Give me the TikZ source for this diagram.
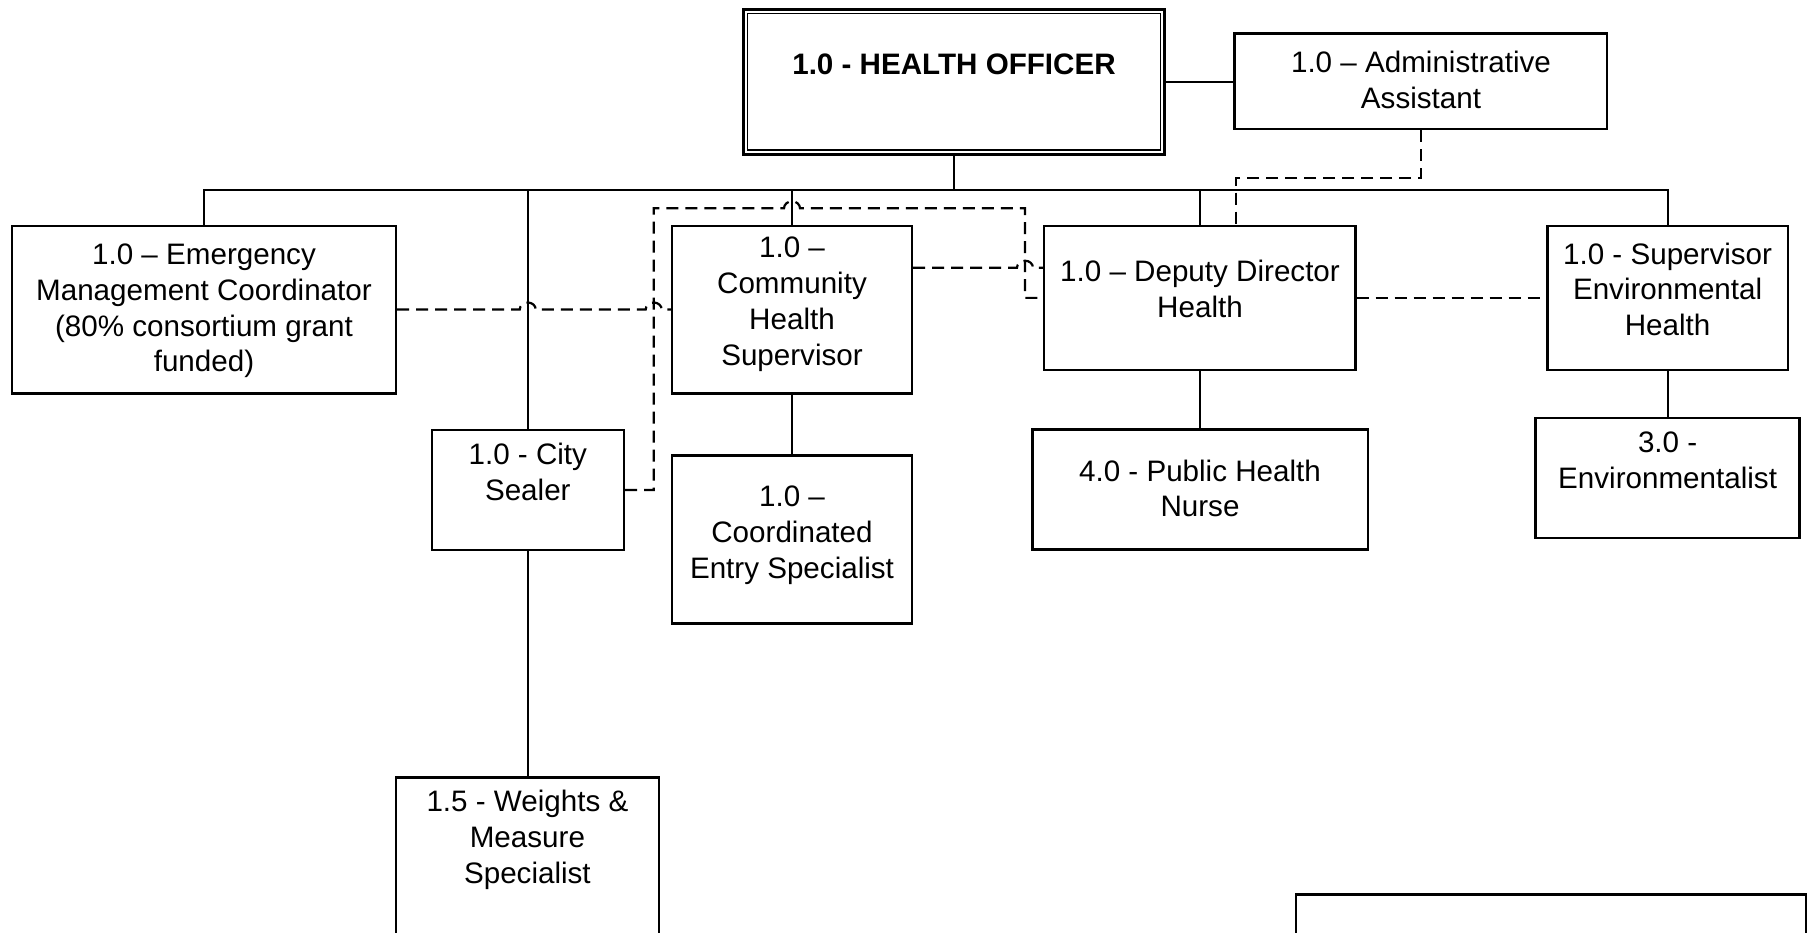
\documentclass[tikz,border=0pt]{standalone}
\usepackage{fontspec}
\setmainfont{Liberation Sans}
\usetikzlibrary{fit,calc}
\begin{document}
\begin{tikzpicture}[x=0.5pt,y=-0.5pt,
  box/.style={draw,line width=1.2pt,inner sep=0pt},
  txt/.style={inner sep=0pt,align=center,font=\fontsize{14.8}{17.9}\selectfont},
  conn/.style={line width=1pt},
  dline/.style={line width=1.1pt,dash pattern=on 6pt off 3.5pt}]
\useasboundingbox (0,0) rectangle (1810,932);
\fill[white] (0,0) rectangle (1810,932);
\clip (0,0) rectangle (1810,932);

% boxes
\node[box,line width=1.5pt,fit={(743.4,9.3)(1164.3,154)}] (ho) {};
\draw[line width=0.7pt] ([shift={(5.5,5.5)}]ho.north west) rectangle ([shift={(-5.5,-5.5)}]ho.south east);
\node[box,fit={(1234.4,33.3)(1606.9,129)}] (aa) {};
\node[box,fit={(12,225.7)(396,393.3)}] (emc) {};
\node[box,fit={(672,226)(912,393.5)}] (chs) {};
\node[box,fit={(1044,225.7)(1355.4,370)}] (dd) {};
\node[box,fit={(1547.5,225.7)(1787.7,370)}] (seh) {};
\node[box,fit={(431.7,430)(623.8,550)}] (csl) {};
\node[box,fit={(672,455.3)(912,623.3)}] (ces) {};
\node[box,fit={(1032.5,429.3)(1367.8,549.3)}] (phn) {};
\node[box,fit={(1535.6,417.7)(1799.6,537.7)}] (env) {};
\node[box,fit={(395.7,777.3)(659,980)}] (wm) {};
\node[box,fit={(1295.7,894.3)(1806,980)}] (blank) {};

% texts
\node[txt,font=\fontsize{14.8}{17.9}\selectfont\bfseries] (ho-t) at (954,67) {\strut 1.0 - HEALTH OFFICER};
\node[txt] (aa-t) at (1421,83.5) {\strut 1.0 – Administrative\\\strut Assistant};
\node[txt] (emc-t) at (204,311) {\strut 1.0 – Emergency\\\strut Management Coordinator\\\strut (80\% consortium grant\\\strut funded)};
\node[txt] (chs-t) at (792,304.5) {\strut 1.0 –\\\strut Community\\\strut Health\\\strut Supervisor};
\node[txt] (dd-t) at (1200,292.7) {\strut 1.0 – Deputy Director\\\strut Health};
\node[txt] (seh-t) at (1667.6,292.8) {\strut 1.0 - Supervisor\\\strut Environmental\\\strut Health};
\node[txt] (csl-t) at (527.8,475.7) {\strut 1.0 - City\\\strut Sealer};
\node[txt] (ces-t) at (792,535.2) {\strut 1.0 –\\\strut Coordinated\\\strut Entry Specialist};
\node[txt] (phn-t) at (1200,491.8) {\strut 4.0 - Public Health\\\strut Nurse};
\node[txt] (env-t) at (1667.6,463.5) {\strut 3.0 -\\\strut Environmentalist};
\node[txt] (wm-t) at (527.4,840.5) {\strut 1.5 - Weights \&\\\strut Measure\\\strut Specialist};

% solid connectors
\coordinate (bus) at (954,190);
\draw[conn] (ho.east) -- (ho.east -| aa.west);
\draw[conn] (ho.south) -- (ho.south |- bus);
\draw[conn] (emc.north) |- (seh.north |- bus) -- (seh.north);
\foreach \n in {csl,chs,dd} \draw[conn] (\n.north) -- (\n.north |- bus);
\draw[conn] (csl.south) -- (csl.south |- wm.north);
\draw[conn] (chs.south) -- (chs.south |- ces.north);
\draw[conn] (dd.south) -- (dd.south |- phn.north);
\draw[conn] (seh.south) -- (seh.south |- env.north);

% dashed connectors
\coordinate (dvl) at (653.7,208.3);
\coordinate (dvr) at (1025,208.3);
\coordinate (aj) at (1236,177.7);
\draw[dline] (emc.east) -- ($(csl.north |- emc.east)+(-8,0)$)
  arc[start angle=180,end angle=360,x radius=8,y radius=7]
  -- ($(dvl |- emc.east)+(-8,0)$)
  arc[start angle=180,end angle=360,x radius=8,y radius=7]
  -- (emc.east -| chs.west);
\draw[dline] (csl.east) -| (dvl) -- ($(chs.north |- dvl)+(-8,0)$)
  arc[start angle=180,end angle=360,x radius=8,y radius=7]
  -- (dvr) |- (dd.west);
\draw[dline] (chs.east |- 0,267.7) -- ($(dvr |- 0,267.7)+(-8,0)$)
  arc[start angle=180,end angle=360,x radius=8,y radius=7]
  -- (dd.west |- 0,267.7);
\draw[dline] (aa.south) |- (aj) -- (aj |- dd.north);
\draw[dline] (dd.east) -- (dd.east -| seh.west);
\end{tikzpicture}
\end{document}
